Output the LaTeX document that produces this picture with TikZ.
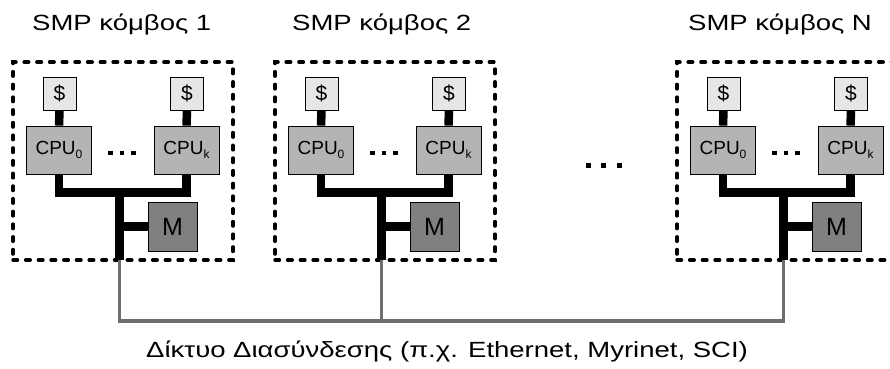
\documentclass[tikz,border=0pt]{standalone}
\usepackage{fontspec}
\setmainfont{Liberation Sans}
\newfontfamily\widefont[FakeStretch=1.25]{Liberation Sans}
\definecolor{cachefill}{HTML}{E6E6E6}
\definecolor{cpufill}{HTML}{B4B4B4}
\definecolor{memfill}{HTML}{808080}
\definecolor{netgray}{HTML}{6E6E6E}
\tikzset{
  cachebox/.style={draw=black, line width=0.8pt, fill=cachefill, minimum width=33pt, minimum height=33pt, inner sep=0pt, font=\fontsize{21}{21}\selectfont},
  cpubox/.style={draw=black, line width=0.8pt, fill=cpufill, minimum width=65pt, minimum height=48pt, inner sep=0pt, font=\fontsize{19}{19}\selectfont},
  membox/.style={draw=black, line width=0.8pt, fill=memfill, minimum width=49pt, minimum height=49pt, inner sep=0pt, font=\fontsize{25}{25}\selectfont},
  nodeframe/.style={draw=black, line width=3.5pt, line cap=round, dash pattern=on 4.5pt off 8.2pt},
  busline/.style={line width=8.5pt, black},
  netline/.style={line width=3.2pt, netgray},
  titletext/.style={anchor=base west, inner sep=0pt, font=\widefont\fontsize{22}{22}\selectfont},
  dotmark/.style={fill=black, inner sep=0pt, minimum size=4.5pt},
}
\newcommand{\cpulabel}[1]{CPU\raisebox{-4pt}{\fontsize{12}{12}\selectfont #1}}
\begin{document}
\begin{tikzpicture}[x=1pt,y=-1pt]
\useasboundingbox (0,0) rectangle (890,368);
\clip (0,0) rectangle (890,368);
\foreach \i/\dx/\tx/\lab in {1/0/32/1, 2/262/292/2, 3/664/688/N} {
  \begin{scope}[xshift=\dx pt]
    \node[titletext] (t\i) at (\tx-\dx,30) {SMP κόμβος \lab};
    \node[nodeframe, minimum width=220pt, minimum height=198pt] (f\i) at (123,161) {};
    \node[cachebox] (ca\i) at (59.5,93.5) {\$};
    \node[cachebox] (cb\i) at (187,93.5) {\$};
    \node[cpubox] (pa\i) at (59,150) {\cpulabel{0}};
    \node[cpubox] (pb\i) at (186.5,150) {\cpulabel{k}};
    \node[membox] (m\i) at (172.5,226.5) {M};
    \node[dotmark] (da\i) at (110.5,153) {};
    \node[dotmark] (db\i) at (122,153) {};
    \node[dotmark] (dc\i) at (133.5,153) {};
    \coordinate (bl\i) at (59,192.5);
    \coordinate (br\i) at (186.5,192.5);
    \coordinate (bm\i) at (119.5,192.5);
    \coordinate (bj\i) at (119.5,226.5);
    \coordinate (bb\i) at (119.5,260);
    \coordinate (nb\i) at (119.5,321);
    \draw[busline] (ca\i.south) -- (pa\i.north);
    \draw[busline] (cb\i.south) -- (pb\i.north);
    \draw[busline, line join=miter] (pa\i.south) -- (bl\i) -- (br\i) -- (pb\i.south);
    \draw[busline] (bm\i) -- (bb\i);
    \draw[busline] (bj\i) -- (m\i.west);
  \end{scope}
}
\draw[netline, line join=miter] (bb1) -- (nb1) -- (nb3) -- (bb3);
\draw[netline] (bb2) -- (nb2);
\node[dotmark, minimum size=5pt] (ma) at (588,165) {};
\node[dotmark, minimum size=5pt] (mb) at (603.5,165) {};
\node[dotmark, minimum size=5pt] (mc) at (619,165) {};
\node[anchor=base west, inner sep=0pt, font=\widefont\fontsize{22}{22}\selectfont] (net) at (146,357) {Δίκτυο Διασύνδεσης (π.χ. Ethernet, Myrinet, SCI)};
\end{tikzpicture}
\end{document}
